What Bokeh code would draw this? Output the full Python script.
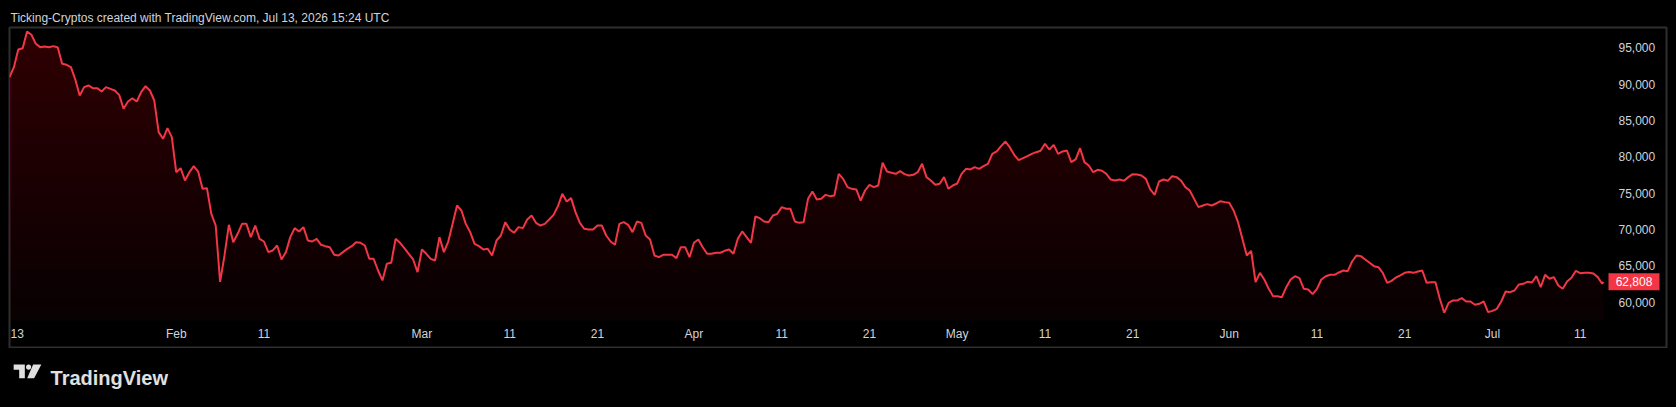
import numpy as np
import pandas as pd
from bokeh.plotting import figure
from bokeh.layouts import column
from bokeh.models import Range1d, ColumnDataSource
from bokeh.core.properties import value
from bokeh.embed import file_html
from bokeh.resources import INLINE

# ---------------- data ----------------
start_time = "2026-01-13 00:00"
step = "12h"
price_12h = [
    90960, 92340, 94770, 94950, 97250, 96790, 95550, 95090, 95180, 95090,
    95230, 95040, 92800, 92660, 92340, 90640, 88440, 89590, 89820, 89450,
    89450, 88990, 89590, 89360, 89130, 88530, 86610, 87610, 88070, 87610,
    88900, 89720, 89130, 87750, 83400, 82480, 83950, 82710, 77890, 78440,
    76750, 77890, 78720, 77980, 75600, 75690, 72160, 70550, 62800, 66430,
    70650, 68260, 69410, 70780, 70780, 68950, 70550, 68720, 68350, 66890,
    67120, 67800, 65880, 66890, 68950, 70190, 69730, 70330, 68490, 68350,
    68720, 67900, 67710, 67570, 66520, 66430, 66890, 67340, 67710, 68260,
    68170, 67800, 65970, 65970, 64360, 62990, 65280, 65420, 68720, 68170,
    67440, 66660, 65880, 64140, 67250, 66660, 65970, 65740, 68950, 66890,
    68350, 70780, 73310, 72620, 70780, 69640, 68030, 67710, 67250, 67340,
    66430, 68490, 69180, 71010, 70010, 69550, 70330, 70190, 71380, 71930,
    70920, 70550, 70780, 71380, 72020, 73220, 74910, 73860, 74320, 72390,
    70920, 70100, 70010, 70010, 70550, 70550, 69180, 68350, 67900, 70780,
    71010, 70650, 69640, 71100, 70920, 69180, 68630, 66430, 66200, 66520,
    66520, 66520, 66060, 67570, 67570, 66200, 68170, 68630, 67570, 66660,
    66660, 66800, 66800, 67070, 67250, 66660, 68720, 69730, 68950, 68170,
    71790, 71560, 71100, 71010, 71930, 72160, 73080, 72850, 72850, 71100,
    70920, 71010, 74220, 75230, 74130, 74220, 74770, 74590, 74680, 77660,
    76970, 75830, 75600, 75510, 73990, 75370, 76150, 75830, 76060, 79180,
    77980, 77800, 77660, 78030, 77620, 77440, 77530, 77890, 79040, 77210,
    76750, 76150, 76290, 77210, 75600, 76060, 76330, 77660, 78350, 78260,
    78580, 78350, 78720, 79040, 80410, 80740, 81470, 82110, 81290, 80280,
    79540, 79820, 80090, 80410, 80640, 80830, 81790, 81010, 81650, 80410,
    80740, 80870, 79270, 79640, 81190, 79270, 78810, 77890, 78210, 78080,
    77660, 76880, 76750, 76880, 76700, 77210, 77620, 77570, 77440, 76970,
    75510, 74770, 76610, 76880, 76700, 77340, 77210, 76750, 75830, 75370,
    74220, 73080, 73310, 73490, 73310, 73580, 73900, 73770, 73670, 72620,
    71010, 68720, 66430, 67070, 62760, 64040, 63130, 61840, 60830, 60830,
    60690, 62070, 63130, 63580, 63310, 61840, 61750, 61110, 61840, 63130,
    63580, 63770, 63770, 64090, 64360, 64270, 65600, 66430, 66340, 65880,
    65420, 64960, 64820, 64040, 62670, 62940, 63400, 63680, 64040, 64140,
    64040, 64230, 64360, 62670, 62760, 62760, 60470, 58540, 59920, 60240,
    60240, 60560, 60100, 60100, 59640, 59780, 60100, 58630, 58810, 59090,
    60100, 61470, 61380, 61610, 62440, 62530, 62800, 62710, 63580, 62070,
    63770, 63220, 63450, 62300, 61840, 62850, 63360, 64320, 63990, 64040,
    64040, 63950, 63450, 62530,
]
last_time = "2026-07-13 15:24"
last_price = 62808

tick_dates = ["2026-01-13", "2026-02-01", "2026-02-11", "2026-03-01", "2026-03-11",
              "2026-03-21", "2026-04-01", "2026-04-11", "2026-04-21", "2026-05-01",
              "2026-05-11", "2026-05-21", "2026-06-01", "2026-06-11", "2026-06-21",
              "2026-07-01", "2026-07-11"]
tick_labels = ["13", "Feb", "11", "Mar", "11", "21", "Apr", "11", "21", "May",
               "11", "21", "Jun", "11", "21", "Jul", "11"]
price_ticks = [60000, 65000, 70000, 75000, 80000, 85000, 90000, 95000]

title_text = "Ticking-Cryptos created with TradingView.com, Jul 13, 2026 15:24 UTC"
brand_text = "TradingView"

# ---------------- layout constants (pixels) ----------------
W = 1676
FR_L, FR_R, FR_T, FR_B = 9, 1666, 27, 347        # bordered chart box
PANE_R, PANE_T, PANE_B = 1606, 28, 320            # price pane inside the box
PX_PER_DAY = 8.775
Y0_PX, Y0_VAL, VAL_PER_PX = 301.7, 60000.0, 137.59

def val_at(py):
    return Y0_VAL + (Y0_PX - py) * VAL_PER_PX

def time_at(px):
    return pd.Timestamp(start_time) + pd.Timedelta(days=(px - FR_L) / PX_PER_DAY)

RED = "#f23645"
TXT = "#d1d4dc"
BORDER = "#2e2e2e"
FONT = "Liberation Sans"
F = value(FONT)

# ---------------- series ----------------
times = list(pd.date_range(start_time, periods=len(price_12h), freq=step)) + [pd.Timestamp(last_time)]
prices = np.array(price_12h + [last_price], dtype=float)

y_lo, y_hi = val_at(FR_B), val_at(FR_T)
pane_lo, pane_hi = val_at(PANE_B), val_at(PANE_T)
pane_end = time_at(PANE_R)

p = figure(width=W, height=FR_B + 1, x_axis_type=None, y_axis_type=None,
           x_range=Range1d(time_at(FR_L), time_at(FR_R)), y_range=Range1d(y_lo, y_hi),
           output_backend="svg", toolbar_location=None, title=title_text,
           min_border_left=FR_L, min_border_right=W - FR_R, min_border_top=FR_T,
           min_border_bottom=1)
p.background_fill_color = "#000000"
p.border_fill_color = "#000000"
p.outline_line_color = BORDER
p.outline_line_width = 2
p.grid.visible = False
p.title.align = "left"
p.title.offset = 1
p.title.standoff = 5
p.title.text_font = FONT
p.title.text_font_size = "12px"
p.title.text_font_style = "normal"
p.title.text_color = TXT

# gradient-like area fill built from stacked translucent layers
p.varea(x=times, y1=np.full(len(prices), pane_lo), y2=prices,
        fill_color=RED, fill_alpha=0.03)
n_layers = 40
for k in range(n_layers):
    lvl = pane_lo + (k + 1) * (pane_hi - pane_lo) / n_layers
    p.varea(x=times, y1=np.full(len(prices), lvl), y2=np.maximum(prices, lvl),
            fill_color=RED, fill_alpha=0.0075)

src = ColumnDataSource(dict(t=times, v=prices))
p.line(x="t", y="v", source=src, line_color=RED, line_width=2)

# time scale labels
tick_times = [pd.Timestamp(d) for d in tick_dates]
lab_y = val_at(333)
p.text(x=tick_times[1:], y=[lab_y] * (len(tick_times) - 1), text=tick_labels[1:],
       text_align="center", text_baseline="middle", text_color=TXT,
       text_font=F, text_font_size="12px")
p.text(x=tick_times[:1], y=[lab_y], text=tick_labels[:1], x_offset=1,
       text_align="left", text_baseline="middle", text_color=TXT,
       text_font=F, text_font_size="12px")

# price scale labels
p.text(x=[pane_end] * len(price_ticks), y=price_ticks,
       text=[f"{v:,}" for v in price_ticks], x_offset=12,
       text_align="left", text_baseline="middle", text_color=TXT,
       text_font=F, text_font_size="12px")

# last price tag
tag_x = time_at(1633.5)
p.rect(x=[tag_x], y=[last_price], width=51, height=17,
       width_units="screen", height_units="screen",
       fill_color=RED, line_color=None)
p.text(x=[tag_x], y=[last_price], text=[f"{last_price:,}"],
       text_align="center", text_baseline="middle", text_color="#ffffff",
       text_font=F, text_font_size="12px")

# ---------------- footer with brand ----------------
FH = 407 - (FR_B + 1)
f = figure(width=W, height=FH, x_axis_type=None, y_axis_type=None,
           x_range=Range1d(0, W), y_range=Range1d(FH, 0),
           output_backend="svg", toolbar_location=None,
           min_border=0, min_border_left=0, min_border_right=0,
           min_border_top=0, min_border_bottom=0)
f.background_fill_color = "#000000"
f.border_fill_color = "#000000"
f.outline_line_color = None
f.grid.visible = False
LOGO = "#e0e0e0"
DX, DY = -8.5, -5.0
f.patch(x=[v + DX for v in [12.7, 24, 24, 18.3, 18.3, 12.7]],
        y=[v + DY for v in [21, 21, 34.7, 34.7, 26.3, 26.3]],
        fill_color=LOGO, line_color=None)
f.circle(x=[27.8 + DX], y=[23.6 + DY], radius=2.6, fill_color=LOGO, line_color=None)
f.patch(x=[v + DX for v in [32.4, 40.7, 33.4, 26.4]],
        y=[v + DY for v in [21, 21, 34.7, 34.7]],
        fill_color=LOGO, line_color=None)
f.text(x=[50 + DX], y=[34.7 + DY], text=[brand_text], text_align="left",
       text_baseline="alphabetic", text_color=LOGO, text_font=F,
       text_font_size="20px", text_font_style="bold")

html = file_html(column(p, f, spacing=0), INLINE)
html = html.replace("</head>",
                    "<style>html,body{margin:0;padding:0;background:#000000;overflow:hidden;}</style></head>", 1)
open("out.html", "w").write(html)
